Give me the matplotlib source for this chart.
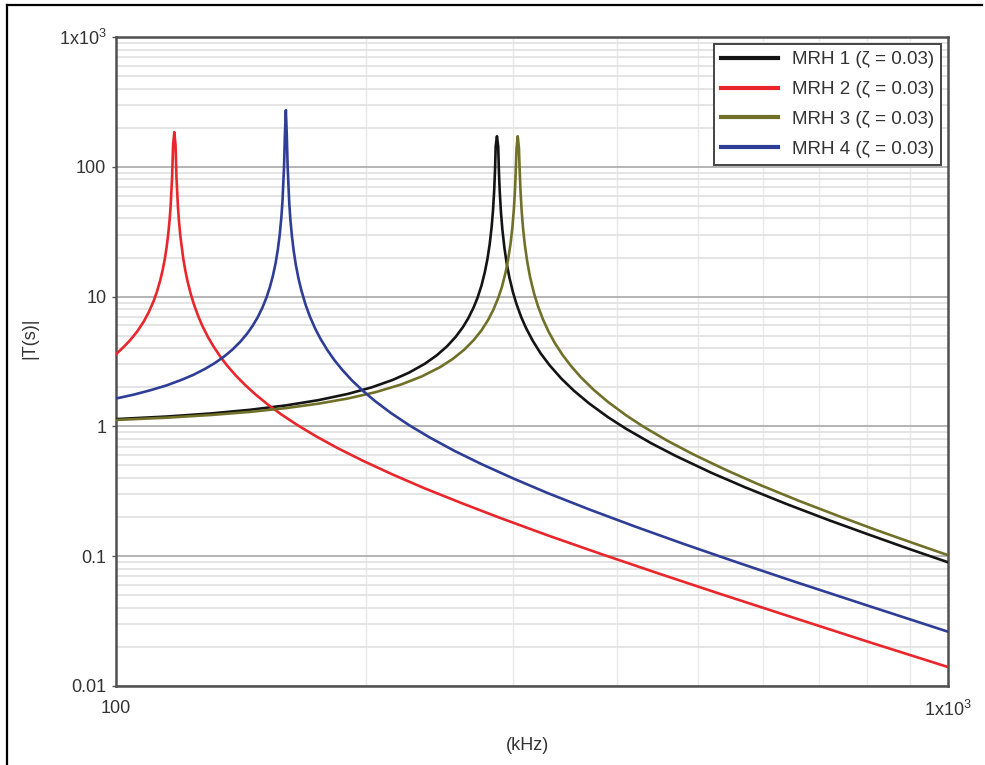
import matplotlib
matplotlib.use('Agg')
import matplotlib.pyplot as plt
from matplotlib.ticker import LogLocator, NullFormatter, FixedLocator, FixedFormatter
from matplotlib.lines import Line2D

plt.rcParams['font.family'] = ['Liberation Sans', 'DejaVu Sans']
plt.rcParams['mathtext.fontset'] = 'custom'
plt.rcParams['mathtext.rm'] = 'Liberation Sans'
plt.rcParams['mathtext.default'] = 'regular'

# Courbes |T(s)| relevées (fréquence en kHz, module)
f_mrh1 = [100, 115, 130, 145, 160, 175, 190, 203, 215, 225, 235, 243, 250, 256, 261, 265, 269,
          272, 275, 277.5, 279.5, 281.3, 282.8, 283.9, 284.8, 285.5, 286, 287,
          288, 288.6, 289.2, 290.2, 291.3, 293, 294.8, 297, 300, 303, 307, 311, 317, 324,
          332, 343, 355, 370, 390, 410, 440, 470, 520, 570, 640, 720, 800, 900, 1000]
t_mrh1 = [1.138, 1.191, 1.258, 1.343, 1.451, 1.592, 1.780, 2.001, 2.279, 2.595, 3.035, 3.532,
          4.145, 4.893, 5.78, 6.783, 8.23, 9.82, 12.2, 15.4, 19.4, 25.4, 34.4, 46.5, 65.5, 95.9,
          144, 172,
          143, 89.4, 65, 44.6, 33.1, 23.7, 18.1, 14.1, 10.8, 8.73, 6.93, 5.74, 4.55, 3.64,
          2.96, 2.335, 1.887, 1.511, 1.181, 0.961, 0.741, 0.595, 0.438, 0.340, 0.252, 0.189,
          0.148, 0.1132, 0.0898]

f_mrh2 = [100, 102, 104, 106, 108, 109.5, 111, 112, 113, 113.8, 114.5, 115, 115.5, 116, 116.3,
          116.8, 117.1, 117.5,
          117.9, 118.2, 118.7, 119, 119.5, 120.5, 121.2, 122, 123, 124, 125.5, 127, 129, 131,
          133.5, 136, 139.5, 143, 147, 152, 158, 165, 174, 185, 198, 215, 235, 260, 290, 330,
          380, 450, 530, 650, 800, 1000]
t_mrh2 = [3.6, 4.058, 4.62, 5.372, 6.44, 7.603, 9.29, 10.94, 13.3, 16.13, 19.8, 23.75, 29.6,
          39.4, 49.2, 84.2, 147, 185,
          147, 84, 48.7, 38.9, 29.1, 19.3, 15.6, 12.8, 10.44, 8.79, 7.10, 5.94, 4.87, 4.12,
          3.438, 2.94, 2.442, 2.08, 1.769, 1.485, 1.237, 1.029, 0.838, 0.676, 0.544, 0.426,
          0.333, 0.257, 0.1964, 0.145, 0.1057, 0.0732, 0.0517, 0.0338, 0.0220, 0.0140]

f_mrh3 = [100, 115, 130, 145, 160, 175, 190, 205, 220, 233, 245, 254, 262, 269, 275, 280, 284,
          288, 291, 294, 296, 298, 299.5, 300.8, 301.7, 302.5, 303, 304,
          305, 305.6, 306.3, 307.3, 308.5, 310, 312, 314.5, 318, 321.5, 326, 331, 337, 344,
          352, 362, 375, 390, 410, 430, 460, 495, 540, 590, 660, 740, 820, 910, 1000]
t_mrh3 = [1.121, 1.167, 1.224, 1.294, 1.383, 1.496, 1.641, 1.834, 2.100, 2.424, 2.853, 3.312,
          3.888, 4.608, 5.50, 6.594, 7.86, 9.757, 11.9, 15.45, 19.3, 25.6, 34.0, 47.8, 66.3,
          101.6, 140, 172,
          140, 94.8, 65.8, 45.8, 33.5, 25.1, 18.8, 14.2, 10.6, 8.44, 6.67, 5.39, 4.37, 3.565,
          2.94, 2.393, 1.917, 1.548, 1.221, 0.999, 0.775, 0.606, 0.464, 0.361, 0.269, 0.203,
          0.159, 0.1256, 0.1018]

f_mrh4 = [100, 105, 110, 115, 120, 124, 128, 131.5, 135, 138, 141, 143.7, 146, 148, 150, 151.7,
          153, 154.3, 155.5, 156.5, 157.3, 158, 158.5, 159.2, 159.6, 160,
          160.4, 160.8, 161.5, 162, 162.7, 163.5, 164.5, 165.7, 167, 169, 171, 173.5, 176,
          179.5, 183, 187, 192, 198, 205, 214, 225, 238, 255, 275, 300, 330, 370, 420, 480,
          560, 650, 800, 1000]
t_mrh4 = [1.64, 1.756, 1.90, 2.069, 2.29, 2.504, 2.78, 3.081, 3.47, 3.905, 4.48, 5.171, 5.98,
          6.927, 8.26, 9.895, 11.7, 14.29, 18.0, 23.11, 29.9, 40.3, 53.6, 100, 180, 273,
          180, 99.7, 53.1, 39.7, 29.4, 22.6, 17.5, 13.79, 11.2, 8.646, 7.03, 5.686, 4.76,
          3.867, 3.24, 2.732, 2.27, 1.882, 1.56, 1.268, 1.023, 0.825, 0.649, 0.512, 0.398,
          0.307, 0.230, 0.1698, 0.125, 0.0889, 0.0645, 0.0417, 0.0262]

labels = ['MRH 1 (ζ = 0.03)', 'MRH 2 (ζ = 0.03)', 'MRH 3 (ζ = 0.03)', 'MRH 4 (ζ = 0.03)']
couleurs = ['#141414', '#e8262b', '#707028', '#2e3d95']

y_ticks = [0.01, 0.1, 1, 10, 100, 1000]
y_ticklabels = ['0.01', '0.1', '1', '10', '100', '1x10$^{3}$']
x_ticks = [100, 1000]
x_ticklabels = ['100', '1x10$^{3}$']

fig = plt.figure(figsize=(9.85, 7.65), dpi=100)
ax = fig.add_axes([0.1178, 0.1033, 0.8446, 0.8483])

for f, t, lab, c in zip([f_mrh1, f_mrh2, f_mrh3, f_mrh4],
                        [t_mrh1, t_mrh2, t_mrh3, t_mrh4], labels, couleurs):
    ax.plot(f, t, color=c, lw=1.9, label=lab, zorder=3)

ax.set_xscale('log')
ax.set_yscale('log')
ax.set_xlim(100, 1000)
ax.set_ylim(0.01, 1000)

ax.yaxis.set_major_locator(FixedLocator(y_ticks))
ax.yaxis.set_major_formatter(FixedFormatter(y_ticklabels))
ax.yaxis.set_minor_locator(LogLocator(base=10, subs=range(2, 10)))
ax.yaxis.set_minor_formatter(NullFormatter())
ax.xaxis.set_major_locator(FixedLocator(x_ticks))
ax.xaxis.set_major_formatter(FixedFormatter(x_ticklabels))
ax.xaxis.set_minor_locator(LogLocator(base=10, subs=range(2, 10)))
ax.xaxis.set_minor_formatter(NullFormatter())

ax.grid(which='major', axis='y', color='#b4b4b4', lw=1.4, zorder=0)
ax.grid(which='minor', axis='y', color='#e2e2e2', lw=1.3, zorder=0)
ax.grid(which='minor', axis='x', color='#e8e8e8', lw=1.0, zorder=0)
ax.set_axisbelow(True)

ax.tick_params(axis='y', which='major', length=3, width=1, color='#555555',
               pad=4, labelsize=13, labelcolor='#333333')
ax.tick_params(axis='x', which='major', length=0, pad=10, labelsize=13, labelcolor='#333333')
ax.tick_params(which='minor', length=0)

for s in ax.spines.values():
    s.set_color('#505050')
    s.set_linewidth(1.8)

ax.set_ylabel('|T(s)|', fontsize=13, color='#333333')
ax.yaxis.set_label_coords(-0.093, 0.536)
ax.set_xlabel('(kHz)', fontsize=13, color='#333333')
ax.xaxis.set_label_coords(0.494, -0.078)

leg = ax.legend(loc='upper right', fontsize=13.5, handlelength=3.0, handletextpad=0.75,
                labelspacing=0.68, borderaxespad=0.35, fancybox=False, framealpha=1,
                edgecolor='#444444', borderpad=0.4)
leg.get_frame().set_linewidth(1.4)
for txt in leg.get_texts():
    txt.set_color('#333333')
for h in leg.get_lines():
    h.set_linewidth(3)

# cadre extérieur (gauche et haut)
fig.add_artist(Line2D([0.0076, 0.0076], [0.0, 0.9941], color='black', lw=1.6))
fig.add_artist(Line2D([0.0076, 0.997], [0.9941, 0.9941], color='black', lw=1.6))

plt.savefig('out.png', dpi=100)
